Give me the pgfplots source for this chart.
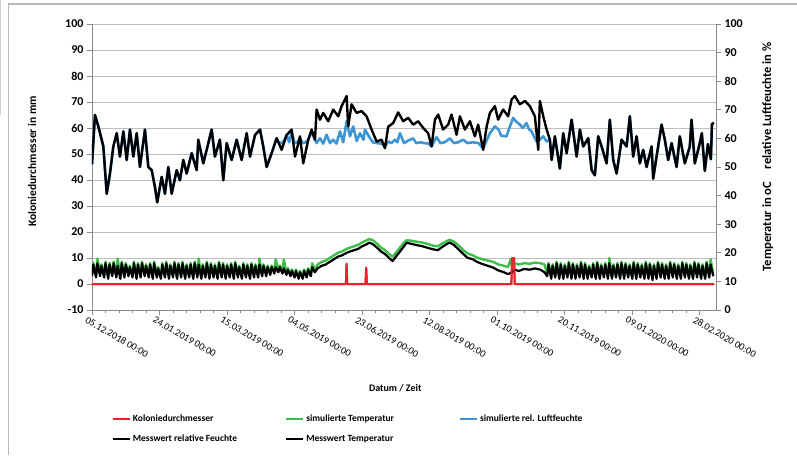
\documentclass[border=0pt]{standalone}
\usepackage{pgfplots}
\pgfplotsset{compat=1.18}
\usepackage{fontspec}
\setmainfont{Carlito}
\definecolor{kred}{HTML}{E8242A}
\definecolor{sgreen}{HTML}{3DBE4A}
\definecolor{sblue}{HTML}{3E95D3}
\definecolor{gridgray}{HTML}{BEBEBE}
\definecolor{axgray}{HTML}{8A8A8A}
\begin{document}
\begin{tikzpicture}
\begin{axis}[
  at={(0pt,0pt)}, anchor=south west, scale only axis, width=624pt, height=286pt,
  xmin=0, xmax=462, ymin=-10, ymax=100,
  axis x line*=bottom, axis y line*=left,
  axis line style={axgray, line width=0.8pt, -},
  ytick={-10,0,...,100}, ymajorgrids, grid style={gridgray, line width=0.8pt},
  tick style={axgray, line width=0.8pt}, major tick length=5pt, minor tick length=3pt, tick align=outside,
  xtick={0,50,...,450}, minor x tick num=4,
  xticklabels={05.12.2018 00:00,24.01.2019 00:00,15.03.2019 00:00,04.05.2019 00:00,23.06.2019 00:00,12.08.2019 00:00,01.10.2019 00:00,20.11.2019 00:00,09.01.2020 00:00,28.02.2020 00:00},
  xticklabel style={rotate=-30, anchor=north west, font=\fontsize{10}{12}\selectfont, inner sep=1pt, xshift=-4pt, yshift=-2pt},
  yticklabel style={font=\bfseries\fontsize{12}{14}\selectfont},
  /pgf/number format/assume math mode=true,
  ylabel={Koloniedurchmesser in mm},
  ylabel style={at={(axis description cs:-0.096,0.52)}, anchor=center, font=\bfseries\fontsize{11.5}{13}\selectfont},
  xlabel={Datum / Zeit},
  xlabel style={at={(axis description cs:0.486,-0.273)}, anchor=center, font=\bfseries\fontsize{10}{12}\selectfont},
  legend columns=3,
  legend style={at={(axis description cs:0.026,-0.352)}, anchor=north west, draw=none, fill=none,
    font=\bfseries\fontsize{9.5}{11}\selectfont, row sep=8pt},
  legend cell align=left,
  line join=round,
]
% Koloniedurchmesser
\addplot[kred, line width=2pt] coordinates {(0,0) (188,0) (188.5,7.8) (189,0) (202.5,0) (203,6.3) (203.5,0) (310.5,0) (311,10) (312.5,10) (313,0) (460.5,0)};
\addlegendentry{\makebox[150pt][l]{Koloniedurchmesser}}
% simulierte Temperatur
\addplot[sgreen, line width=2.4pt] coordinates {
(0,3.6) (1,8.1) (3,3.1) (4,9.8) (6,3.6) (7,7.6) (9,3.1) (10,8.6) (12,2.6) (13,8.1) (15,3.6) (16,8.6) (18,3.1) (19,9.8) (21,2.6) (22,8.6) (24,3.1) (25,8.1) (27,3.6) (28,7.1) (30,3.1) (31,8.6) (33,2.6) (34,8.1) (36,3.1) (37,8.6) (39,3.6) (40,7.6) (42,3.1) (43,8.1) (45,2.6) (46,8.6) (48,3.1) (49,6.6) (51,2.6) (52,8.1) (54,3.1) (55,8.6) (57,2.6) (58,7.6) (60,3.1) (61,8.6) (63,2.6) (64,8.1) (66,3.1) (67,8.6) (69,2.6) (70,7.6) (72,3.1) (73,8.1) (75,2.6) (76,8.6) (78,3.1) (79,9.8) (81,2.6) (82,7.6) (84,3.1) (85,8.6) (87,2.6) (88,8.1) (90,3.1) (91,7.6) (93,2.6) (94,8.6) (96,3.1) (97,8.1) (99,2.6) (100,7.6) (102,3.1) (103,8.1) (105,2.6) (106,8.6) (108,3.1) (109,7.1) (111,2.6) (112,8.1) (114,3.1) (115,7.6) (117,2.6) (118,8.1) (120,3.1) (121,7.6) (123,3.1) (124,9.8) (126,3.6) (127,7.6) (129,3.6) (130,7.1) (132,4.1) (133,7.1) (135,4.6) (136,9.5) (138,5.1) (139,7.1) (141,4.6) (142,9.5) (144,4.1) (145,6.1) (147,3.6) (148,5.6) (150,3.1) (151,5.6) (153,2.6) (154,5.1) (156,2.6) (157,5.6) (159,3.1) (160,6.1) (162,3.6) (163,8)
(165,5.5) (167,7.5) (170,8.5) (173,9) (176,10) (179,11) (182,12) (185,12.5) (188.5,13.5) (191,14) (194,14.5) (197,15) (200,16) (203,16.7) (205.4,17.3) (208,16.8) (211,15.5) (214,14) (217,13) (220,11.5) (222.5,10.5) (225,12) (228,14) (231,16) (233,16.8) (236,16.7) (240,16.3) (244,16) (248,15.5) (252,14.8) (256,14.5) (260,15.8) (263,16.6) (265,17) (268,16.3) (271,15) (275,13) (278,11.8) (282,11) (285,10.2) (289,9.5) (293,9) (297,8.5) (301,7.5) (305,7) (308,6.5) (310,9.5) (311,7) (313,8) (316,7.5) (320,8) (324,7.8) (328,8.2) (332,8) (335,7.5) (337,4)
(338,8.1) (340,2.6) (341,7.6) (343,3.1) (344,8.6) (346,2.6) (347,8.1) (349,2.6) (350,7.6) (352,3.1) (353,8.6) (355,2.6) (356,8.1) (358,2.6) (359,7.6) (361,3.1) (362,8.6) (364,2.6) (365,8.1) (367,2.6) (368,7.1) (370,3.1) (371,8.1) (373,2.6) (374,8.6) (376,2.6) (377,7.6) (379,3.1) (380,8.1) (382,2.6) (383,10) (385,2.6) (386,7.6) (388,3.1) (389,8.1) (391,2.6) (392,8.6) (394,2.6) (395,8.1) (397,3.1) (398,7.6) (400,2.6) (401,8.6) (403,2.6) (404,8.1) (406,3.1) (407,7.6) (409,2.6) (410,8.6) (412,2.6) (413,8.1) (415,2.1) (416,7.6) (418,2.6) (419,8.6) (421,3.1) (422,8.1) (424,2.6) (425,7.6) (427,2.6) (428,8.6) (430,3.1) (431,8.1) (433,2.6) (434,7.6) (436,2.6) (437,8.6) (439,3.1) (440,8.1) (442,2.6) (443,7.6) (445,2.6) (446,8.6) (448,3.1) (449,8.1) (451,2.6) (452,7.6) (454,2.6) (455,8.6) (457,3.1) (458,9.5) (460,3.6)};
\addlegendentry{\makebox[150pt][l]{simulierte Temperatur}}
% simulierte rel. Luftfeuchte
\addplot[sblue, line width=2.6pt] coordinates {
(0,46) (2.2,65) (4.7,60.6) (8.4,52.9) (10.9,34.7) (13.3,42.5) (15.8,52.9) (18.3,58) (20.7,49) (23.2,58.7) (25.7,47.7) (28.1,59.4) (30.6,49) (33.1,58) (35.5,45) (39.2,59.4) (41.7,45) (44.2,43.8) (46.6,37.3) (48.3,31.4) (51.6,41.2) (54,34.7) (56.5,45) (59,34.7) (62.7,43.8) (65.1,39.9) (67.6,47.7) (70.1,42.5) (73.8,50.3) (77.5,43.8) (78.7,55.5) (82.4,46.4) (84.9,51.6) (88.6,59.4) (91,49) (94.7,55.5) (97.2,39.9) (99.7,54.2) (103.4,47.7) (107.1,55.5) (110.8,47.7) (114.5,58) (117,49) (120.7,57.3) (124.4,59.4) (126.8,52.9) (129.3,45) (133,50.3) (136.7,56.1)
(138,54.5) (140.4,54.2) (142,55) (144.1,57.3) (146,54.5) (147.8,58.5) (150,54.2) (152,54.5) (154,56) (156,54.2) (158,54.5) (160.1,55.5) (162.6,58.5) (165.1,55.5) (166.3,54.2) (168.8,56.1) (171.2,54) (173.7,57.4) (176.2,54.2) (178.6,55.5) (181,54) (183.6,58.7) (186,54.5) (188.5,62.6) (191,56.8) (193.4,60.6) (196,55) (198.4,58) (201,55.5) (202.1,59.4) (205.8,56.1) (208,54.5) (210.7,54.2) (214.4,54) (216.9,52.9) (219.3,54.8) (221.8,54.2) (224.3,55.5) (226,54.5) (228,58) (231,54.2) (233.5,55) (237.8,56) (240,54.2) (243,54.5) (246,54.2) (249,54) (251.4,53) (255.1,56.5) (258,54.2) (261,54.5) (265,56) (268,54.2) (271,54.5) (274.8,55.5) (278,54.2) (282,54.5) (286,54.2) (289.6,52.2) (292,55) (294.6,58) (298.3,60.6) (301,59.4) (303,57) (306.9,56.8) (309,60) (311.8,63.9) (314,62.5) (316.8,61.3) (319,60) (321.7,61.9) (323.5,59.5) (325.4,58.7) (327,57) (329.1,54.8) (331.6,55.5) (334.1,56.8) (336.6,54.8)
(339,55.5) (340.3,47.7) (342.7,56.8) (346.4,44.4) (348.9,58) (351.4,50.3) (355.1,63.2) (358.8,49) (361.2,59.4) (363.7,52.9) (367.4,56.1) (369.9,43.8) (372.3,41.8) (374.8,56.8) (377.3,52.9) (381,46.4) (383.4,63.2) (385.9,47.7) (388.4,42.5) (392.1,55.5) (395.8,52.9) (398.2,64.5) (400.7,49) (403.2,56.8) (405.6,46.4) (408.1,51.6) (410.6,45) (414.3,52.9) (415.5,40.5) (418,49) (421.7,61.3) (424.1,55.5) (426.6,47.7) (429.1,54.2) (432.8,45) (435.2,56.8) (438.9,46.4) (442.6,52.9) (443.9,63.2) (446.3,46.4) (450,54.2) (451.5,58) (453.7,43.5) (456,53.8) (458.2,48) (459,61.5) (460.4,62)};
\addlegendentry{\makebox[150pt][l]{simulierte rel. Luftfeuchte}}
% Messwert relative Feuchte
\addplot[black, line width=2.4pt] coordinates {
(0,46) (2.2,65) (4.7,60.6) (8.4,52.9) (10.9,34.7) (13.3,42.5) (15.8,52.9) (18.3,58) (20.7,49) (23.2,58.7) (25.7,47.7) (28.1,59.4) (30.6,49) (33.1,58) (35.5,45) (39.2,59.4) (41.7,45) (44.2,43.8) (46.6,37.3) (48.3,31.4) (51.6,41.2) (54,34.7) (56.5,45) (59,34.7) (62.7,43.8) (65.1,39.9) (67.6,47.7) (70.1,42.5) (73.8,50.3) (77.5,43.8) (78.7,55.5) (82.4,46.4) (84.9,51.6) (88.6,59.4) (91,49) (94.7,55.5) (97.2,39.9) (99.7,54.2) (103.4,47.7) (107.1,55.5) (110.8,47.7) (114.5,58) (117,49) (120.7,57.3) (124.4,59.4) (126.8,52.9) (129.3,45) (133,50.3) (136.7,56.1) (140.4,51.6) (144.1,57.3) (147.8,59.4) (150.3,49) (154,56.8) (156.4,46.4) (160.1,55.5) (162.6,59.4) (165.1,55.5) (166.3,67.1) (168.8,63.2) (171.2,65.8) (174.9,62.6) (178.6,67.1) (182.3,64.5) (184.8,68.4) (188.5,72.3) (189.7,60.6) (192.2,69.1) (195.9,65.8) (199.6,66.5) (203.3,64.5) (207,59.4) (210.7,54.8) (214.4,55.5) (216.9,52.2) (219.3,60.5) (223,61.9) (226.7,66) (230.4,62.6) (234.1,63.9) (237.8,61.3) (241.5,62.6) (245.2,60) (248.9,58) (251.4,52.9) (253.9,63.2) (256.3,65.2) (260,59.4) (263.7,61.3) (266.2,65.2) (269.9,57.4) (272.4,64.5) (276.1,59.4) (279.8,62.6) (283.5,56.8) (285.9,61.3) (289.6,51.6) (292.2,60.6) (294.6,65.8) (298.3,68.4) (300.7,63.2) (304.4,67.1) (308.1,64.5) (310.7,71) (313.1,72.3) (316.8,69.1) (320.5,70.4) (324.2,68.4) (327.9,64.5) (330.4,51.6) (331.6,70.4) (334.1,64.5) (336.6,59.4)
(339,55.5) (340.3,47.7) (342.7,56.8) (346.4,44.4) (348.9,58) (351.4,50.3) (355.1,63.2) (358.8,49) (361.2,59.4) (363.7,52.9) (367.4,56.1) (369.9,43.8) (372.3,41.8) (374.8,56.8) (377.3,52.9) (381,46.4) (383.4,63.2) (385.9,47.7) (388.4,42.5) (392.1,55.5) (395.8,52.9) (398.2,64.5) (400.7,49) (403.2,56.8) (405.6,46.4) (408.1,51.6) (410.6,45) (414.3,52.9) (415.5,40.5) (418,49) (421.7,61.3) (424.1,55.5) (426.6,47.7) (429.1,54.2) (432.8,45) (435.2,56.8) (438.9,46.4) (442.6,52.9) (443.9,63.2) (446.3,46.4) (450,54.2) (451.5,58) (453.7,43.5) (456,53.8) (458.2,48) (459,61.5) (460.4,62)};
\addlegendentry{\makebox[150pt][l]{Messwert relative Feuchte}}
% Messwert Temperatur
\addplot[black, line width=2.2pt] coordinates {
(0,3) (1,7.5) (3,2.5) (4,8) (6,3) (7,7) (9,2.5) (10,8) (12,2) (13,7.5) (15,3) (16,8) (18,2.5) (19,7) (21,2) (22,8) (24,2.5) (25,7.5) (27,3) (28,6.5) (30,2.5) (31,8) (33,2) (34,7.5) (36,2.5) (37,8) (39,3) (40,7) (42,2.5) (43,7.5) (45,2) (46,8) (48,2.5) (49,6) (51,2) (52,7.5) (54,2.5) (55,8) (57,2) (58,7) (60,2.5) (61,8) (63,2) (64,7.5) (66,2.5) (67,8) (69,2) (70,7) (72,2.5) (73,7.5) (75,2) (76,8) (78,2.5) (79,7.5) (81,2) (82,7) (84,2.5) (85,8) (87,2) (88,7.5) (90,2.5) (91,7) (93,2) (94,8) (96,2.5) (97,7.5) (99,2) (100,7) (102,2.5) (103,7.5) (105,2) (106,8) (108,2.5) (109,6.5) (111,2) (112,7.5) (114,2.5) (115,7) (117,2) (118,7.5) (120,2.5) (121,7) (123,2.5) (124,7.5) (126,3) (127,7) (129,3) (130,6.5) (132,3.5) (133,6.5) (135,4) (136,6.5) (138,4.5) (139,6.5) (141,4) (142,6) (144,3.5) (145,5.5) (147,3) (148,5) (150,2.5) (151,5) (153,2) (154,4.5) (156,2) (157,5) (159,2.5) (160,5.5) (162,3) (163,6.5)
(165,4.5) (167,6) (170,7) (173,7.5) (176,8.5) (179,9.5) (182,10.5) (185,11) (188.5,12) (191,12.5) (194,13) (197,13.5) (200,14.5) (203,15.2) (205.4,15.9) (208,15.3) (211,14) (214,12.5) (217,11.5) (220,10) (222.5,8.8) (225,10.5) (228,12.5) (231,14.5) (233,15.9) (236,15.5) (240,15) (244,14.6) (248,14) (252,13.4) (256,13) (260,14.5) (263,15.5) (265,15.9) (268,15) (271,13.5) (275,11.5) (278,10.1) (282,9.5) (285,8.5) (289,7.7) (293,7) (297,6.3) (301,5.2) (305,4.5) (308,3.8) (311,4.5) (313,5.5) (316,5) (320,5.8) (324,5.5) (328,6) (332,5.5) (335,4.5) (337,3)
(338,7.5) (340,2) (341,7) (343,2.5) (344,8) (346,2) (347,7.5) (349,2) (350,7) (352,2.5) (353,8) (355,2) (356,7.5) (358,2) (359,7) (361,2.5) (362,8) (364,2) (365,7.5) (367,2) (368,6.5) (370,2.5) (371,7.5) (373,2) (374,8) (376,2) (377,7) (379,2.5) (380,7.5) (382,2) (383,8) (385,2) (386,7) (388,2.5) (389,7.5) (391,2) (392,8) (394,2) (395,7.5) (397,2.5) (398,7) (400,2) (401,8) (403,2) (404,7.5) (406,2.5) (407,7) (409,2) (410,8) (412,2) (413,7.5) (415,1.5) (416,7) (418,2) (419,8) (421,2.5) (422,7.5) (424,2) (425,7) (427,2) (428,8) (430,2.5) (431,7.5) (433,2) (434,7) (436,2) (437,8) (439,2.5) (440,7.5) (442,2) (443,7) (445,2) (446,8) (448,2.5) (449,7.5) (451,2) (452,7) (454,2) (455,8) (457,2.5) (458,7.5) (460,3)};
\addlegendentry{\makebox[150pt][l]{Messwert Temperatur}}
\addplot[kred, line width=2pt, forget plot] coordinates {(0,0) (188,0) (188.5,7.8) (189,0) (202.5,0) (203,6.3) (203.5,0) (310.5,0) (311,10) (312.5,10) (313,0) (460.5,0)};
\end{axis}
\begin{axis}[
  at={(0pt,0pt)}, anchor=south west, scale only axis, width=624pt, height=286pt,
  xmin=0, xmax=462, ymin=0, ymax=100,
  axis x line=none, axis y line*=right,
  axis line style={axgray, line width=0.8pt, -},
  ytick={0,10,...,100},
  tick style={axgray, line width=0.8pt}, major tick length=5pt, tick align=outside,
  yticklabel style={font=\bfseries\fontsize{12}{14}\selectfont},
  /pgf/number format/assume math mode=true,
  ylabel={Temperatur in oC\hspace{1em}relative Luftfeuchte in \%},
  ylabel style={at={(axis description cs:1.083,0.535)}, anchor=center, font=\bfseries\fontsize{12.6}{14}\selectfont},
]
\addplot[draw=none, forget plot] coordinates {(0,0) (462,100)};
\end{axis}
\draw[gray!55, line width=1.2pt] (-83.5pt,-145pt) -- (-83.5pt,306pt) -- (705pt,306pt);
\draw[gray!35, line width=1pt] (-91pt,310pt) -- (-91pt,195pt);
\pgfresetboundingbox
\useasboundingbox (-92pt,-145pt) rectangle (705pt,310pt);
\end{tikzpicture}
\end{document}
